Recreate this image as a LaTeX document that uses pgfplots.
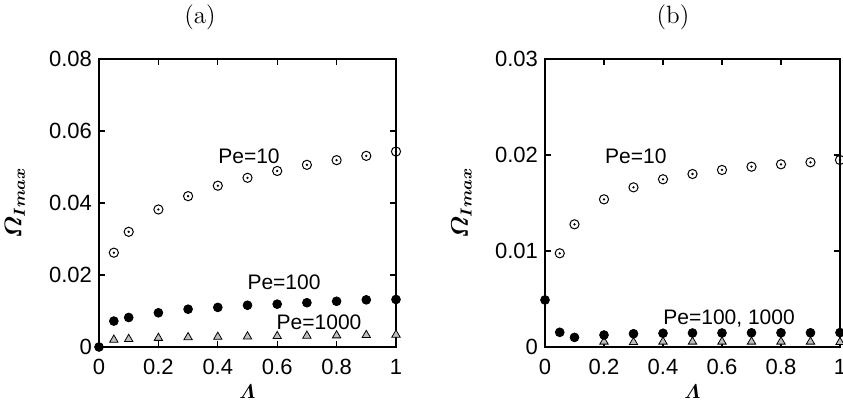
\documentclass[border=0pt]{standalone}
\usepackage{fontspec}
\setmainfont{Liberation Sans}
\newfontfamily\lmr{Latin Modern Roman}
\usepackage{amsmath,bm}
\usepackage{pgfplots}
\usepackage{pgfplotstable}
\pgfplotsset{compat=1.18}

\pgfplotstableread{
x y
0.05 0.0262
0.1 0.0320
0.2 0.0382
0.3 0.0419
0.4 0.0448
0.5 0.0470
0.6 0.0489
0.7 0.0506
0.8 0.0519
0.9 0.0531
1.0 0.0543
}\aTen
\pgfplotstableread{
x y
0 0
0.05 0.0072
0.1 0.0082
0.2 0.0095
0.3 0.0105
0.4 0.0110
0.5 0.0116
0.6 0.0119
0.7 0.0123
0.8 0.0127
0.9 0.0131
1.0 0.0132
}\aHundred
\pgfplotstableread{
x y
0.05 0.0020
0.1 0.0022
0.2 0.0025
0.3 0.0027
0.4 0.0028
0.5 0.0029
0.6 0.0030
0.7 0.0031
0.8 0.0032
0.9 0.0033
1.0 0.0034
}\aThousand
\pgfplotstableread{
x y
0.05 0.00976
0.1 0.01278
0.2 0.01538
0.3 0.01663
0.4 0.01747
0.5 0.01802
0.6 0.01844
0.7 0.01878
0.8 0.01903
0.9 0.01924
1.0 0.01948
}\bTen
\pgfplotstableread{
x y
0 0.0049
0.05 0.00153
0.1 0.00100
0.2 0.00125
0.3 0.00138
0.4 0.00143
0.5 0.00146
0.6 0.00146
0.7 0.00148
0.8 0.00148
0.9 0.00148
1.0 0.00150
}\bHundred
\pgfplotstableread{
x y
0.2 0.00055
0.3 0.00050
0.4 0.00055
0.5 0.00055
0.6 0.00055
0.7 0.00055
0.8 0.00055
0.9 0.00055
1.0 0.00050
}\bThousand

\pgfplotsset{
  myax/.style={
    scale only axis, height=144pt,
    xmin=0, xmax=1, ymin=0,
    tick align=inside,
    xtick={0,0.2,0.4,0.6,0.8,1},
    major tick length=3pt,
    axis line style={line width=0.8pt},
    every tick/.style={black, line width=0.6pt},
    tick label style={font=\fontsize{11}{13}\selectfont},
    /pgf/number format/assume math mode=true,
    scaled y ticks=false,
    yticklabel style={/pgf/number format/fixed, /pgf/number format/precision=2},
    xticklabel style={/pgf/number format/fixed, yshift=-2.5pt},
    clip=false,
    xlabel={$\bm{\varLambda}$},
    ylabel={$\bm{\varOmega_{Imax}}$},
    xlabel style={at={(axis description cs:0.5,-0.155)}, anchor=center, font=\normalsize},
    ylabel style={at={(axis description cs:-0.283,0.5)}, anchor=center, font=\large},
  },
  tenO/.style={only marks, mark=o, mark size=2.3pt, mark options={line width=0.5pt}},
  tenD/.style={only marks, mark=*, mark size=0.35pt},
  hund/.style={only marks, mark=*, mark size=2.2pt, black},
  thou/.style={only marks, mark=triangle*, mark size=2.4pt, mark options={fill=gray!50, draw=black, line width=0.4pt}},
}

\begin{document}
\begin{tikzpicture}
\useasboundingbox (0,0) rectangle (421.5pt,206pt);
\begin{axis}[myax, at={(49.5pt,32.5pt)}, anchor=south west, width=148.5pt,
  ymax=0.08, ytick={0,0.02,0.04,0.06,0.08},
  title={(a)},
  every axis title/.style={at={(axis description cs:0.34,1.146)}, anchor=center, font=\lmr\fontsize{12.5}{14}\selectfont}]
\addplot[tenO] table {\aTen};
\addplot[tenD] table {\aTen};
\addplot[hund] table {\aHundred};
\addplot[thou] table {\aThousand};
\node[font=\fontsize{10.5}{12}\selectfont] at (axis cs:0.505,0.0531) {Pe=10};
\node[font=\fontsize{10.5}{12}\selectfont] at (axis cs:0.623,0.0179) {Pe=100};
\node[font=\fontsize{10.5}{12}\selectfont] at (axis cs:0.741,0.00675) {Pe=1000};
\end{axis}
\begin{axis}[myax, at={(272.5pt,32.5pt)}, anchor=south west, width=147.5pt,
  ymax=0.03, ytick={0,0.01,0.02,0.03},
  title={(b)},
  every axis title/.style={at={(axis description cs:0.434,1.146)}, anchor=center, font=\lmr\fontsize{12.5}{14}\selectfont}]
\addplot[tenO] table {\bTen};
\addplot[tenD] table {\bTen};
\addplot[thou] table {\bThousand};
\addplot[hund] table {\bHundred};
\node[font=\fontsize{10.5}{12}\selectfont] at (axis cs:0.308,0.0199) {Pe=10};
\node[font=\fontsize{10.5}{12}\selectfont] at (axis cs:0.624,0.00299) {Pe=100, 1000};
\end{axis}
\end{tikzpicture}
\end{document}
